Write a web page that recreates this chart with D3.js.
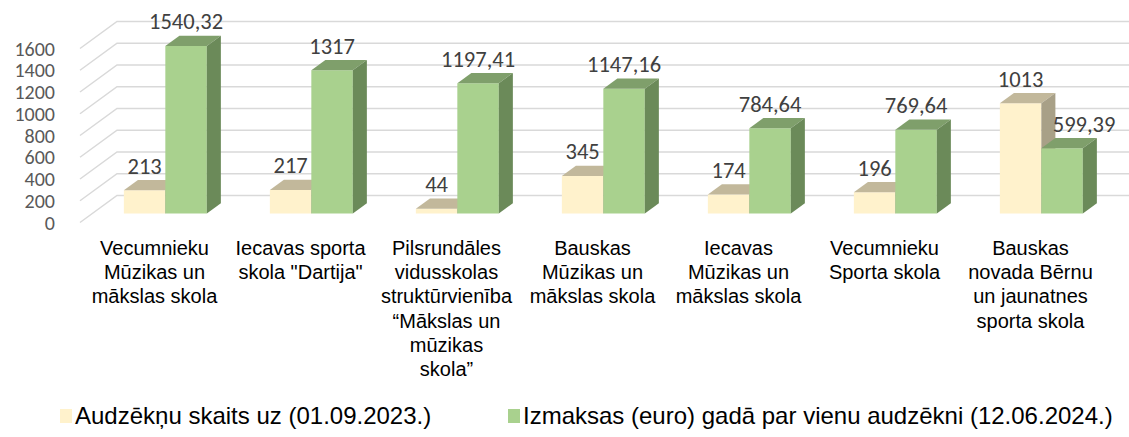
<!DOCTYPE html>
<html>
<head>
<meta charset="utf-8">
<script src="https://cdn.jsdelivr.net/npm/d3@7"></script>
<style>
  html, body { margin: 0; padding: 0; background: #ffffff; }
  svg { display: block; }
</style>
</head>
<body>
<svg id="chart" width="1129" height="437"></svg>
<script>
// chart data
const categories = [
    "Vecumnieku\nMūzikas un\nmākslas skola",
    "Iecavas sporta\nskola \"Dartija\"",
    "Pilsrundāles\nvidusskolas\nstruktūrvienība\n“Mākslas un\nmūzikas\nskola”",
    "Bauskas\nMūzikas un\nmākslas skola",
    "Iecavas\nMūzikas un\nmākslas skola",
    "Vecumnieku\nSporta skola",
    "Bauskas\nnovada Bērnu\nun jaunatnes\nsporta skola"
];
const seriesNames = [
    "Audzēkņu skaits uz (01.09.2023.)",
    "Izmaksas (euro) gadā par vienu audzēkni (12.06.2024.)"
];
const pupils = [213, 217, 44, 345, 174, 196, 1013];
const costs = [1540.32, 1317, 1197.41, 1147.16, 784.64, 769.64, 599.39];
const yTicks = [0, 200, 400, 600, 800, 1000, 1200, 1400, 1600];

// colours: front, top, side
const palette = [
    { front: "#FFF2CC", top: "#C2B89B", side: "#A8A087" },
    { front: "#A9D18E", top: "#7F9F6B", side: "#6B8A59" }
];

const W = 1129, H = 437;
const svg = d3.select("svg#chart");

// 3d projection: depth t in [0,1] shifts right and up
const DX = 37, DY = -27;
const proj = (x, y, t) => [x + DX * t, y + DY * t];

const y = d3.scaleLinear().domain([0, 1600]).range([222.5, 48.5]);
const x = d3.scaleBand().domain(categories).range([80, 80 + 7 * 146]);
const inner = d3.scaleBand().domain([0, 1]).range([0, x.bandwidth()])
    .paddingInner(0).paddingOuter(0.76);

const barT0 = 1 / 3, barT1 = barT0 + 0.38;

// gridlines: wall diagonal + back horizontal
const grid = svg.append("g");
yTicks.forEach(v => {
    const [x0, y0] = proj(80, y(v), 0);
    const [x1, y1] = proj(80, y(v), 1);
    grid.append("path")
        .attr("d", `M${x0},${y0}L${x1},${y1}L${W},${y1}`)
        .attr("fill", "none")
        .attr("stroke", "#D9D9D9")
        .attr("stroke-width", 1.5);
});

// y tick labels
svg.append("g").selectAll("text")
    .data(yTicks)
    .join("text")
    .attr("x", 55)
    .attr("y", d => y(d) + 7)
    .attr("text-anchor", "end")
    .attr("font-family", "Calibri, Carlito, Lato, sans-serif")
    .attr("font-size", 20)
    .attr("fill", "#595959")
    .text(d => d);

// bars
const fmt = v => Number.isInteger(v) ? String(v) : v.toFixed(2).replace(".", ",");
const bars = svg.append("g");
const labels = [];
categories.forEach((c, i) => {
    [pupils[i], costs[i]].forEach((v, s) => {
        const xl = x(c) + inner(s);
        const xr = xl + inner.bandwidth();
        const yb = y(0), yt = y(v);
        const p = (xx, yy, t) => proj(xx, yy, t).join(",");
        const col = palette[s];
        // front
        bars.append("path")
            .attr("d", `M${p(xl, yb, barT0)}L${p(xr, yb, barT0)}L${p(xr, yt, barT0)}L${p(xl, yt, barT0)}Z`)
            .attr("fill", col.front);
        // top
        bars.append("path")
            .attr("d", `M${p(xl, yt, barT0)}L${p(xr, yt, barT0)}L${p(xr, yt, barT1)}L${p(xl, yt, barT1)}Z`)
            .attr("fill", col.top);
        // side
        bars.append("path")
            .attr("d", `M${p(xr, yb, barT0)}L${p(xr, yb, barT1)}L${p(xr, yt, barT1)}L${p(xr, yt, barT0)}Z`)
            .attr("fill", col.side);

        const [cx, cy] = proj((xl + xr) / 2, yt, barT0);
        // nudge the second label right when the first bar is taller
        const shift = (s === 1 && pupils[i] > v) ? 22 : 0;
        labels.push({ x: cx + shift, y: cy - 16.5, text: fmt(v) });
    });
});

svg.append("g").selectAll("text")
    .data(labels)
    .join("text")
    .attr("x", d => d.x)
    .attr("y", d => d.y)
    .attr("text-anchor", "middle")
    .attr("font-family", "Calibri, Carlito, Lato, sans-serif")
    .attr("font-size", 22.5)
    .attr("fill", "#404040")
    .text(d => d.text);

// category labels (front plane)
const catG = svg.append("g");
categories.forEach(c => {
    const t = catG.append("text")
        .attr("x", x(c) + x.bandwidth() / 2 + 1.5)
        .attr("y", 255)
        .attr("text-anchor", "middle")
        .attr("font-family", "Arial, 'Liberation Sans', sans-serif")
        .attr("font-size", 20)
        .attr("fill", "#000");
    c.split("\n").forEach((line, k) => {
        t.append("tspan")
            .attr("x", x(c) + x.bandwidth() / 2 + 1.5)
            .attr("dy", k === 0 ? 0 : 24.2)
            .text(line);
    });
});

// legend
const legendX = [60, 508];
const legend = svg.append("g");
seriesNames.forEach((name, s) => {
    legend.append("rect")
        .attr("x", legendX[s])
        .attr("y", 409)
        .attr("width", 12)
        .attr("height", 14)
        .attr("fill", palette[s].front);
    legend.append("text")
        .attr("x", legendX[s] + 15)
        .attr("y", 424)
        .attr("font-family", "Arial, 'Liberation Sans', sans-serif")
        .attr("font-size", 24)
        .attr("fill", "#000")
        .text(name);
});
</script>
</body>
</html>
